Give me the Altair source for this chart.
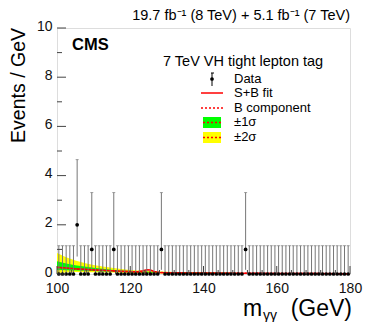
import altair as alt
import pandas as pd

# ---------------- data ----------------
# 1 GeV bins, centres 100.5 ... 179.5 ; events per GeV
bin_lo_edge = 100.0
counts = [
    0, 0, 0, 0, 0, 2, 0, 0, 0, 1, 0, 0, 0, 0, 0, 1, 0, 0, 0, 0,   # 100-119
    0, 0, 0, 0, 0, 0, 0, 0, 1, 0, 0, 0, 0, 0, 0, 0, 0, 0, 0, 0,   # 120-139
    0, 0, 0, 0, 0, 0, 0, 0, 0, 0, 0, 1, 0, 0, 0, 0, 0, 0, 0, 0,   # 140-159
    0, 0, 0, 0, 0, 0, 0, 0, 0, 0, 0, 0, 0, 0, 0, 0, 0, 0, 0, 0,   # 160-179
]
# error-bar ends, keyed by the bin content
err_low_end = {0: 0.0, 1: 0.17, 2: 0.71}
err_high_end = {0: 1.15, 1: 3.31, 2: 4.65}

# fit curves and bands
fit_mass = [100, 102.5, 105, 107.5, 110, 112.5, 115, 117.5, 120, 122, 123.5, 124.5,
            125.5, 126.5, 128, 130, 135, 140, 145, 150, 160, 170, 180]
sb_fit = [0.27, 0.24, 0.21, 0.19, 0.17, 0.15, 0.13, 0.115, 0.10, 0.095, 0.13, 0.17,
          0.16, 0.10, 0.06, 0.055, 0.045, 0.04, 0.035, 0.03, 0.022, 0.016, 0.012]
b_comp = [0.26, 0.23, 0.20, 0.18, 0.16, 0.14, 0.12, 0.105, 0.09, 0.08, 0.075, 0.07,
          0.067, 0.064, 0.06, 0.055, 0.045, 0.04, 0.035, 0.03, 0.022, 0.016, 0.012]
band1_lo = [0.16, 0.15, 0.14, 0.13, 0.12, 0.105, 0.09, 0.08, 0.07, 0.06, 0.057, 0.053,
            0.05, 0.048, 0.045, 0.04, 0.033, 0.028, 0.024, 0.02, 0.014, 0.01, 0.007]
band1_hi = [0.52, 0.43, 0.36, 0.30, 0.25, 0.21, 0.17, 0.145, 0.12, 0.105, 0.10, 0.095,
            0.09, 0.085, 0.078, 0.07, 0.058, 0.052, 0.046, 0.04, 0.03, 0.022, 0.017]
band2_lo = [0.04, 0.06, 0.08, 0.075, 0.07, 0.065, 0.06, 0.05, 0.04, 0.035, 0.033, 0.031,
            0.03, 0.028, 0.025, 0.02, 0.015, 0.012, 0.01, 0.008, 0.005, 0.003, 0.002]
band2_hi = [0.85, 0.68, 0.55, 0.45, 0.37, 0.30, 0.25, 0.20, 0.165, 0.145, 0.135, 0.125,
            0.12, 0.11, 0.10, 0.09, 0.075, 0.062, 0.052, 0.045, 0.033, 0.025, 0.018]

x_ticks_major = [100, 120, 140, 160, 180]
x_ticks_minor = [104, 108, 112, 116, 124, 128, 132, 136, 144, 148, 152, 156, 164, 168, 172, 176]
y_ticks_major = [0, 2, 4, 6, 8, 10]
y_ticks_minor = [1, 3, 5, 7, 9]

# ---------------- tables ----------------
centres = [bin_lo_edge + i + 0.5 for i in range(len(counts))]
pts = pd.DataFrame({
    "m": centres,
    "v": counts,
    "lo": [err_low_end[c] for c in counts],
    "hi": [err_high_end[c] for c in counts],
})
fit = pd.DataFrame({"m": fit_mass, "sb": sb_fit, "b": b_comp,
                    "l1": band1_lo, "h1": band1_hi, "l2": band2_lo, "h2": band2_hi})

FONT = "Liberation Sans"
xs = alt.Scale(domain=[100, 180], nice=False, zero=False)
ys = alt.Scale(domain=[0, 10], nice=False)
X = alt.X("m:Q", scale=xs, axis=alt.Axis(values=x_ticks_major, title=None, ticks=False, domain=False,
                                         grid=False, labelFontSize=14, labelFont=FONT, labelFlush=False,
                                         labelColor="#111", labelPadding=7))
Y_axis = alt.Axis(values=y_ticks_major, title=None, ticks=False, domain=False, grid=False,
                  labelFontSize=14, labelFont=FONT, labelColor="#111", labelPadding=5,
                  labelFlush=False, labelOffset=-2)

base_fit = alt.Chart(fit)
band2 = base_fit.mark_area(color="#ffff00", opacity=1).encode(
    x=X, y=alt.Y("l2:Q", scale=ys, axis=Y_axis), y2="h2:Q")
band1 = base_fit.mark_area(color="#00ff00", opacity=1).encode(x="m:Q", y="l1:Q", y2="h1:Q")
bline = base_fit.mark_line(color="#ff0000", strokeDash=[2, 2], strokeWidth=1.5).encode(x="m:Q", y="b:Q")
sbline = base_fit.mark_line(color="#ff0000", strokeWidth=1.5).encode(x="m:Q", y="sb:Q")

base_pts = alt.Chart(pts)
ebars = base_pts.mark_rule(color="#777", strokeWidth=1).encode(x="m:Q", y="lo:Q", y2="hi:Q")
caps = base_pts.mark_tick(color="#777", orient="horizontal", size=3, thickness=1).encode(x="m:Q", y="hi:Q")
dots = base_pts.mark_circle(color="black", size=14, opacity=1).encode(x="m:Q", y="v:Q")

# inward ticks
ytm = alt.Chart(pd.DataFrame({"t": y_ticks_major})).mark_rule(color="#444").encode(
    y="t:Q", x=alt.value(0), x2=alt.value(9))
ytn = alt.Chart(pd.DataFrame({"t": y_ticks_minor})).mark_rule(color="#444").encode(
    y="t:Q", x=alt.value(0), x2=alt.value(5))
xtm = alt.Chart(pd.DataFrame({"t": x_ticks_major})).mark_rule(color="#444").encode(
    x="t:Q", y=alt.value(246), y2=alt.value(238))
xtn = alt.Chart(pd.DataFrame({"t": x_ticks_minor})).mark_rule(color="#444").encode(
    x="t:Q", y=alt.value(246), y2=alt.value(242))

one = alt.Chart(pd.DataFrame({"a": [0]}))


def txt(s, x, y, size=13, align="left", weight="normal", baseline="middle", angle=0):
    kw = dict(text=s, fontSize=size, font=FONT, align=align, fontWeight=weight,
              baseline=baseline, color="black")
    if angle:
        kw["angle"] = angle
    return one.mark_text(**kw).encode(x=alt.value(x), y=alt.value(y))


texts = [
    txt("19.7 fb\u207b\u00b9 (8 TeV) + 5.1 fb\u207b\u00b9 (7 TeV)", 293, -12, size=14.5, align="right"),
    txt("CMS", 15, 17, size=16.5, weight="bold"),
    txt("7 TeV VH tight lepton tag", 106, 34, size=14.5),
    txt("Events / GeV", -38, 0, size=19.5, align="right", angle=270),
    txt("m", 186, 288, size=23, baseline="alphabetic"),
    txt("\u03b3\u03b3", 206, 292, size=14, baseline="alphabetic"),
    txt("(GeV)", 295, 288, size=23, align="right", baseline="alphabetic"),
    # legend text
    txt("Data", 177, 51),
    txt("S+B fit", 177, 65),
    txt("B component", 177, 80),
    txt("\u00b11\u03c3", 177, 94),
    txt("\u00b12\u03c3", 177, 109),
]

leg = [
    one.mark_rule(color="black").encode(x=alt.value(155), y=alt.value(45), y2=alt.value(58)),
    one.mark_rule(color="black").encode(x=alt.value(154), x2=alt.value(157), y=alt.value(45)),
    one.mark_circle(color="black", size=14, opacity=1).encode(x=alt.value(155), y=alt.value(51)),
    one.mark_rule(color="#ff0000", strokeWidth=1.5).encode(x=alt.value(144), x2=alt.value(166), y=alt.value(65)),
    one.mark_rule(color="#ff0000", strokeWidth=1.5, strokeDash=[2, 2]).encode(
        x=alt.value(144), x2=alt.value(166), y=alt.value(80)),
    one.mark_rect(color="#00ff00").encode(x=alt.value(146), x2=alt.value(164), y=alt.value(89), y2=alt.value(100)),
    one.mark_rule(color="#ff0000", strokeWidth=1.5, strokeDash=[2, 2]).encode(
        x=alt.value(146), x2=alt.value(164), y=alt.value(94.5)),
    one.mark_rect(color="#ffff00").encode(x=alt.value(146), x2=alt.value(164), y=alt.value(104), y2=alt.value(115)),
    one.mark_rule(color="#ff0000", strokeWidth=1.5, strokeDash=[2, 2]).encode(
        x=alt.value(146), x2=alt.value(164), y=alt.value(109.5)),
]

chart = alt.layer(
    band2, band1, bline, sbline, ebars, caps, dots, ytm, ytn, xtm, xtn, *texts, *leg
).properties(
    width=293, height=246,
    autosize=alt.AutoSizeParams(type="none"),
    padding={"left": 49, "top": 20, "right": 16, "bottom": 48},
).configure_view(stroke="#333", strokeWidth=1.2).configure(background="white")

chart.save("out.html", embed_options={"renderer": "svg", "actions": False})
